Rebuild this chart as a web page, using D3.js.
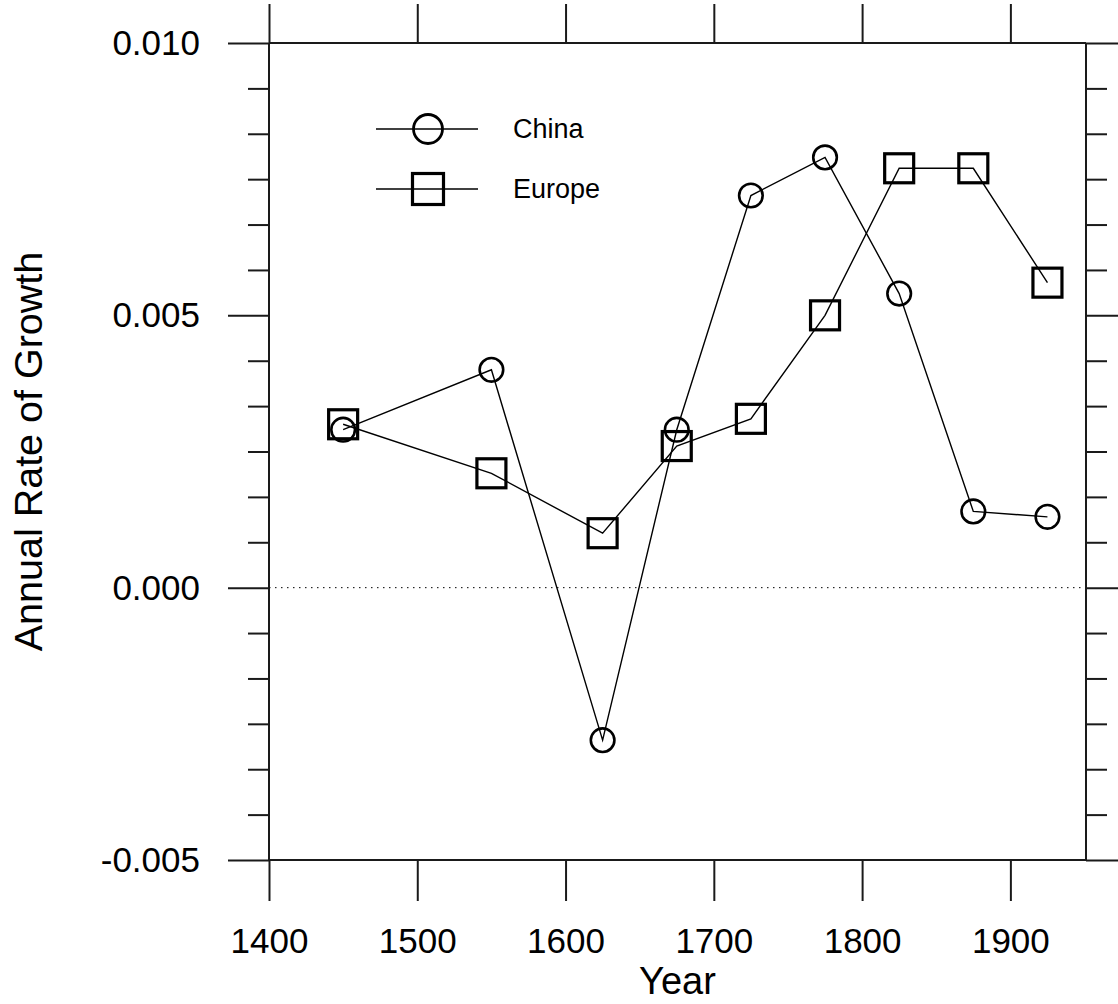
<!DOCTYPE html>
<html>
<head>
<meta charset="utf-8">
<script src="https://cdn.jsdelivr.net/npm/d3@7"></script>
<style>
  html, body { margin: 0; padding: 0; background: #fff; }
  svg { display: block; }
  text { font-family: "Liberation Sans", Arial, sans-serif; fill: #000; }
</style>
</head>
<body>
<svg id="chart" width="1118" height="1004"></svg>
<script>
// ---- data ----
const years = [1450, 1550, 1625, 1675, 1725, 1775, 1825, 1875, 1925];
const china = [0.0029, 0.0040, -0.0028, 0.0029, 0.0072, 0.0079, 0.0054, 0.0014, 0.0013];
const europe = [0.0030, 0.0021, 0.0010, 0.0026, 0.0031, 0.0050, 0.0077, 0.0077, 0.0056];
const xTicks = [1400, 1500, 1600, 1700, 1800, 1900];
const yTicks = [0.010, 0.005, 0.000, -0.005];
const yTickLabels = ["0.010", "0.005", "0.000", "-0.005"];
const seriesNames = ["China", "Europe"];
const xTitle = "Year";
const yTitle = "Annual Rate of Growth";

// ---- layout ----
const svg = d3.select("#chart");
const L = 269, R = 1086, T = 43, B = 860;
const x = d3.scaleLinear().domain([1400, 1951]).range([L, R]);
const y = d3.scaleLinear().domain([-0.005, 0.010]).range([B, T]);
const axisColor = "#1a1a1a";

// minor y ticks: 6 intervals per 0.005
const minorY = [];
for (let i = 0; i < 3; i++) {
  for (let k = 1; k < 6; k++) minorY.push(yTicks[i] - k * 0.005 / 6);
}

// zero dotted line
svg.append("line")
  .attr("x1", L).attr("x2", R).attr("y1", y(0)).attr("y2", y(0))
  .attr("stroke", "#000").attr("stroke-width", 1)
  .attr("stroke-dasharray", "1.5,4.5");

function styleAxis(g) {
  g.select(".domain").remove();
  g.selectAll(".tick line").attr("stroke", axisColor).attr("stroke-width", 2);
}

// left major
svg.append("g").attr("transform", `translate(${L},0)`)
  .call(d3.axisLeft(y).tickValues(yTicks).tickSize(41).tickPadding(28)
    .tickFormat((d, i) => yTickLabels[i]))
  .call(styleAxis)
  .call(g => g.selectAll(".tick text")
    .attr("font-size", 35).attr("dy", null).attr("y", 11.5)
    .attr("font-family", "'Liberation Sans', Arial, sans-serif"));
// left minor
svg.append("g").attr("transform", `translate(${L},0)`)
  .call(d3.axisLeft(y).tickValues(minorY).tickSize(21).tickFormat(""))
  .call(styleAxis);
// right major (extends past the edge)
svg.append("g").attr("transform", `translate(${R},0)`)
  .call(d3.axisRight(y).tickValues(yTicks).tickSize(41).tickFormat(""))
  .call(styleAxis);
svg.append("g").attr("transform", `translate(${R},0)`)
  .call(d3.axisRight(y).tickValues(minorY).tickSize(21).tickFormat(""))
  .call(styleAxis);
// bottom
svg.append("g").attr("transform", `translate(0,${B})`)
  .call(d3.axisBottom(x).tickValues(xTicks).tickSize(41).tickPadding(52)
    .tickFormat(d3.format("d")))
  .call(styleAxis)
  .call(g => g.selectAll(".tick text")
    .attr("font-size", 35).attr("dy", null).attr("y", 93)
    .attr("font-family", "'Liberation Sans', Arial, sans-serif"));
// top
svg.append("g").attr("transform", `translate(0,${T})`)
  .call(d3.axisTop(x).tickValues(xTicks).tickSize(39).tickFormat(""))
  .call(styleAxis);

// frame: vertical axes and horizontal lines
const frame = svg.append("g").attr("stroke", axisColor).attr("stroke-width", 2);
frame.append("line").attr("x1", L).attr("x2", L).attr("y1", T).attr("y2", B);
frame.append("line").attr("x1", R).attr("x2", R).attr("y1", T).attr("y2", B);
frame.append("line").attr("x1", L).attr("x2", R).attr("y1", T).attr("y2", T);
frame.append("line").attr("x1", L).attr("x2", R).attr("y1", B).attr("y2", B);

// ---- series ----
const line = d3.line().x(d => x(d[0])).y(d => y(d[1]));
const chinaPts = years.map((yr, i) => [yr, china[i]]);
const europePts = years.map((yr, i) => [yr, europe[i]]);

[chinaPts, europePts].forEach(pts => {
  svg.append("path").datum(pts)
    .attr("d", line).attr("fill", "none")
    .attr("stroke", "#000").attr("stroke-width", 1.4);
});

svg.append("g").selectAll("circle").data(chinaPts).join("circle")
  .attr("cx", d => x(d[0])).attr("cy", d => y(d[1])).attr("r", 11.8)
  .attr("fill", "none").attr("stroke", "#000").attr("stroke-width", 2.6);

const sq = 29;
svg.append("g").selectAll("rect").data(europePts).join("rect")
  .attr("x", d => x(d[0]) - sq / 2).attr("y", d => y(d[1]) - sq / 2)
  .attr("width", sq).attr("height", sq)
  .attr("fill", "none").attr("stroke", "#000").attr("stroke-width", 3.2);

// ---- legend ----
const lg = svg.append("g");
const legendRows = [{ y: 129, name: seriesNames[0], shape: "circle" },
                    { y: 189, name: seriesNames[1], shape: "square" }];
legendRows.forEach(r => {
  lg.append("line").attr("x1", 376).attr("x2", 478).attr("y1", r.y).attr("y2", r.y)
    .attr("stroke", "#000").attr("stroke-width", 1.4);
  if (r.shape === "circle") {
    lg.append("circle").attr("cx", 428).attr("cy", r.y).attr("r", 14.5)
      .attr("fill", "none").attr("stroke", "#000").attr("stroke-width", 2.8);
  } else {
    lg.append("rect").attr("x", 428 - 15.5).attr("y", r.y - 15.5)
      .attr("width", 31).attr("height", 31)
      .attr("fill", "none").attr("stroke", "#000").attr("stroke-width", 3.2);
  }
  lg.append("text").attr("x", 513).attr("y", r.y + 9)
    .attr("font-size", 27).attr("fill", "#111").text(r.name);
});

// ---- titles ----
svg.append("text").attr("x", (L + R) / 2).attr("y", 994)
  .attr("text-anchor", "middle").attr("font-size", 38).text(xTitle);
svg.append("text")
  .attr("transform", `translate(42,${(T + B) / 2}) rotate(-90)`)
  .attr("text-anchor", "middle").attr("font-size", 39.5).text(yTitle);
</script>
</body>
</html>
